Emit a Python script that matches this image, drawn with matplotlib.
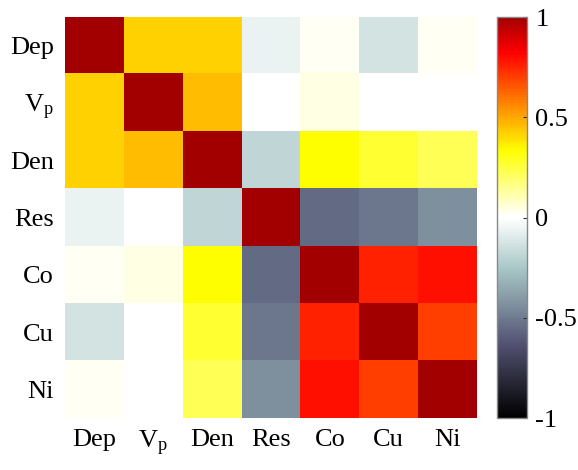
import numpy as np
import matplotlib
matplotlib.use('Agg')
import matplotlib.pyplot as plt
from matplotlib.colors import ListedColormap

plt.rcParams['font.family'] = 'Liberation Serif'
plt.rcParams['mathtext.fontset'] = 'custom'
plt.rcParams['mathtext.rm'] = 'Liberation Serif'
plt.rcParams['mathtext.it'] = 'Liberation Serif'

labels = ['Dep', r'V$_\mathrm{p}$', 'Den', 'Res', 'Co', 'Cu', 'Ni']

# correlation matrix (symmetric)
r_dep = [1.00, 0.42, 0.42, -0.06, 0.02, -0.13, 0.02]
r_vp  = [0.42, 1.00, 0.46, 0.00, 0.04, 0.00, 0.00]
r_den = [0.42, 0.46, 1.00, -0.18, 0.33, 0.27, 0.22]
r_res = [-0.06, 0.00, -0.18, 1.00, -0.55, -0.51, -0.43]
r_co  = [0.02, 0.04, 0.33, -0.55, 1.00, 0.75, 0.795]
r_cu  = [-0.13, 0.00, 0.27, -0.51, 0.75, 1.00, 0.70]
r_ni  = [0.02, 0.00, 0.22, -0.43, 0.795, 0.70, 1.00]
corr = np.array([r_dep, r_vp, r_den, r_res, r_co, r_cu, r_ni])

# bone for negative half, flipped hot for positive half
neg = plt.cm.bone(np.linspace(0, 1, 128))
pos = plt.cm.hot(np.linspace(1, 0.23, 128))
cmap = ListedColormap(np.vstack([neg, pos]))

fig = plt.figure(figsize=(5.78, 4.70), dpi=100)
ax = fig.add_axes([0.1125, 0.1106, 0.7128, 0.8532])
im = ax.imshow(corr, cmap=cmap, vmin=-1, vmax=1, aspect='auto')
ax.set_xticks(range(7))
ax.set_yticks(range(7))
ax.set_xticklabels(labels, fontsize=19)
ax.set_yticklabels(labels, fontsize=19)
ax.tick_params(length=0, pad=8)
for s in ax.spines.values():
    s.set_visible(False)

cax = fig.add_axes([0.86, 0.1106, 0.052, 0.8532])
cb = fig.colorbar(im, cax=cax, ticks=[-1, -0.5, 0, 0.5, 1])
cb.ax.set_yticklabels(['-1', '-0.5', '0', '0.5', '1'], fontsize=19)
cb.ax.tick_params(direction='in', length=3, width=0.8, color='#333333', pad=6)
cb.outline.set_edgecolor('#888888')
cb.outline.set_linewidth(1)

fig.savefig('out.png', dpi=100)
